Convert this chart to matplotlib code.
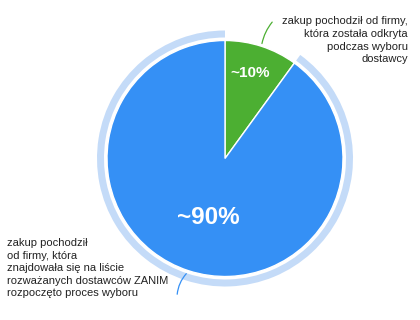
import numpy as np
import matplotlib.pyplot as plt
from matplotlib.patches import Wedge

# dane
wartosci = [10, 90]
etykiety_proc = ["~10%", "~90%"]
opisy = [
    "zakup pochodził od firmy,\nktóra została odkryta\npodczas wyboru\ndostawcy",
    "zakup pochodził\nod firmy, która\nznajdowała się na liście\nrozważanych dostawców ZANIM\nrozpoczęto proces wyboru",
]
kolory = ["#4caf32", "#3590f5"]
kolor_pierscienia = "#c4dbf8"

plt.rcParams["font.family"] = ["Liberation Sans", "DejaVu Sans"]

W, H = 420, 320
fig = plt.figure(figsize=(W / 100, H / 100), dpi=100)
ax = fig.add_axes([0, 0, 1, 1])

cx, cy, r = 225, H - 158.5, 118

ax.pie(wartosci, colors=kolory, startangle=90, counterclock=False,
       center=(cx, cy), radius=r,
       wedgeprops=dict(edgecolor="white", linewidth=1))

# katy wycinkow (stopnie, przeciwnie do wskazowek zegara)
ulamki = np.array(wartosci) / sum(wartosci)
granice = 90 - 360 * np.concatenate([[0], np.cumsum(ulamki)])
srodki = (granice[:-1] + granice[1:]) / 2

# pierscien wokol duzego wycinka
ax.add_patch(Wedge((cx, cy), 128, granice[2] + 360, granice[1] + 360,
                   width=7, facecolor=kolor_pierscienia, edgecolor="none"))

# etykiety procentowe
ax.text(cx + 25, H - 73, etykiety_proc[0], color="white", fontsize=11,
        fontweight="bold", ha="center", va="center")
ax.text(cx - 17, H - 217, etykiety_proc[1], color="white", fontsize=17.5,
        fontweight="bold", ha="center", va="center")

# linie odniesienia
a0 = np.radians(srodki[0])
ax.annotate("", xy=(cx + r * np.cos(a0), cy + r * np.sin(a0)), xytext=(274, H - 20),
            arrowprops=dict(arrowstyle="-", color=kolory[0], lw=0.9,
                            connectionstyle="arc3,rad=0.15"))
a1 = np.radians(srodki[1])
ax.annotate("", xy=(cx + (r + 1) * np.cos(a1), cy + (r + 1) * np.sin(a1)), xytext=(177, H - 297),
            arrowprops=dict(arrowstyle="-", color=kolory[1], lw=0.9,
                            connectionstyle="arc3,rad=-0.2"))

ax.text(408, H - 16.5, opisy[0], ha="right", va="top", fontsize=8,
        color="#222222", linespacing=1.32)
ax.text(7, H - 238, opisy[1], ha="left", va="top", fontsize=8,
        color="#222222", linespacing=1.32)

ax.set_xlim(0, W)
ax.set_ylim(0, H)
ax.set_aspect("auto")
ax.axis("off")

fig.savefig("out.png", dpi=100)
